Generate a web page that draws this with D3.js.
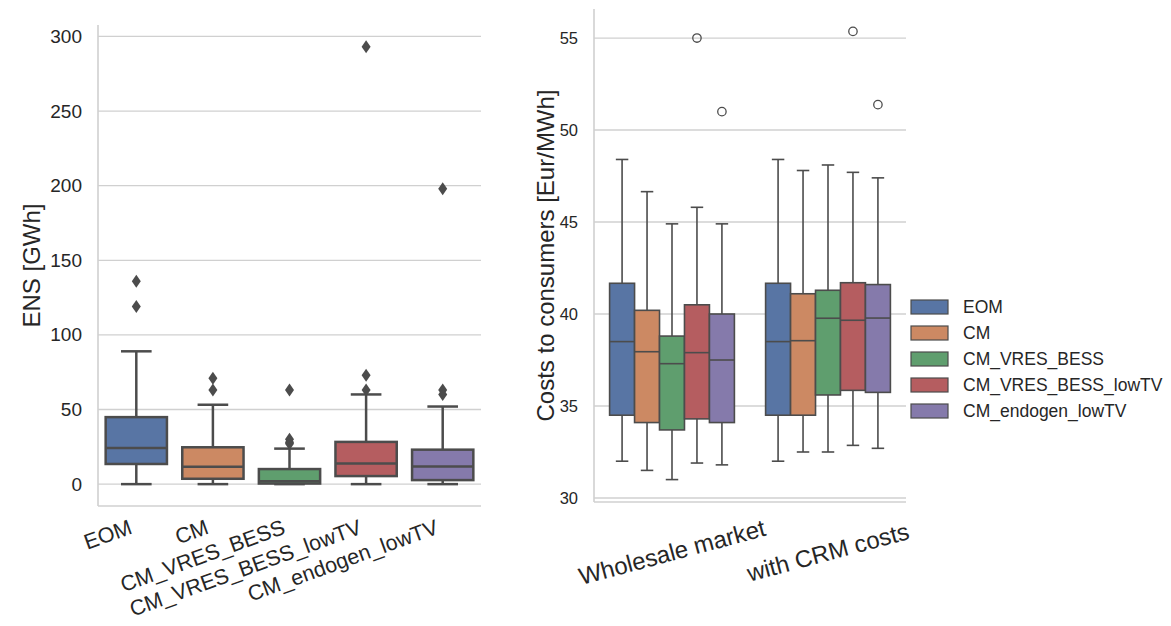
<!DOCTYPE html>
<html>
<head>
<meta charset="utf-8">
<script src="https://cdn.jsdelivr.net/npm/d3@7"></script>
<style>
  body { margin: 0; background: #fff; }
  svg { font-family: "Liberation Sans", Arial, sans-serif; }
  text { fill: #262626; }
</style>
</head>
<body>
<svg id="drawing_region"></svg>
<script>
// scenarios (same order in both panels and in legend)
const categories = ["EOM", "CM", "CM_VRES_BESS", "CM_VRES_BESS_lowTV", "CM_endogen_lowTV"];
const colors = ["#5875a4", "#cc8963", "#5f9e6e", "#b55d60", "#857aab"];

// left panel: energy not served [GWh]
const ensLow  = [0, 0, 0, 0, 0];
const ensQ1   = [13.5, 3.6, 0.4, 5.4, 2.7];
const ensMed  = [24.2, 11.6, 2.0, 13.9, 11.9];
const ensQ3   = [44.9, 24.7, 10.1, 28.3, 23.1];
const ensHigh = [89, 53.2, 23.8, 60.1, 52];
const ensOut  = [[136, 119], [71, 63], [63, 30, 28, 27], [293, 73, 63], [198, 63, 60]];
const ensTicks = [0, 50, 100, 150, 200, 250, 300];

// right panel: costs to consumers [Eur/MWh], [group][scenario]
const groups = ["Wholesale market", "with CRM costs"];
const costLow  = [[32.0, 31.5, 31.0, 31.9, 31.8], [32.0, 32.5, 32.5, 32.86, 32.7]];
const costQ1   = [[34.5, 34.1, 33.7, 34.3, 34.1], [34.5, 34.5, 35.6, 35.85, 35.74]];
const costMed  = [[38.5, 37.95, 37.3, 37.9, 37.5], [38.5, 38.55, 39.77, 39.66, 39.78]];
const costQ3   = [[41.67, 40.2, 38.8, 40.5, 40.0], [41.67, 41.1, 41.29, 41.7, 41.6]];
const costHigh = [[48.4, 46.65, 44.9, 45.8, 44.9], [48.4, 47.8, 48.1, 47.7, 47.4]];
const costOut  = [[[], [], [], [55.0], [51.0]], [[], [], [], [55.36], [51.38]]];
const costTicks = [30, 35, 40, 45, 50, 55];

const svg = d3.select("#drawing_region")
    .attr("width", 1171)
    .attr("height", 626);

const lineCol = "#4c4c4c";
const gridCol = "#d0d0d0";

// pad a domain by 5% like matplotlib
function padded(vals) {
    const ext = d3.extent(vals);
    const m = (ext[1] - ext[0]) * 0.05;
    return [ext[0] - m, ext[1] + m];
}

function drawBox(g, cx, w, st, yscale, col, lw, flier) {
    const capW = w * 0.5;
    g.append("line")
        .attr("x1", cx).attr("x2", cx)
        .attr("y1", yscale(st.low)).attr("y2", yscale(st.q1))
        .attr("stroke", lineCol).attr("stroke-width", lw);
    g.append("line")
        .attr("x1", cx).attr("x2", cx)
        .attr("y1", yscale(st.q3)).attr("y2", yscale(st.high))
        .attr("stroke", lineCol).attr("stroke-width", lw);
    [st.low, st.high].forEach(v => {
        g.append("line")
            .attr("x1", cx - capW / 2).attr("x2", cx + capW / 2)
            .attr("y1", yscale(v)).attr("y2", yscale(v))
            .attr("stroke", lineCol).attr("stroke-width", lw);
    });
    g.append("rect")
        .attr("x", cx - w / 2).attr("width", w)
        .attr("y", yscale(st.q3))
        .attr("height", yscale(st.q1) - yscale(st.q3))
        .attr("fill", col)
        .attr("stroke", lineCol).attr("stroke-width", lw);
    g.append("line")
        .attr("x1", cx - w / 2).attr("x2", cx + w / 2)
        .attr("y1", yscale(st.med)).attr("y2", yscale(st.med))
        .attr("stroke", lineCol).attr("stroke-width", lw);
    st.out.forEach(v => {
        if (flier === "diamond") {
            const y = yscale(v);
            g.append("path")
                .attr("d", `M${cx},${y - 6.5}L${cx + 4.5},${y}L${cx},${y + 6.5}L${cx - 4.5},${y}Z`)
                .attr("fill", lineCol);
        } else {
            g.append("circle")
                .attr("cx", cx).attr("cy", yscale(v)).attr("r", 4.2)
                .attr("fill", "none")
                .attr("stroke", lineCol).attr("stroke-width", 1.3);
        }
    });
}

// ---------- left panel ----------
const L = { left: 98, right: 481, top: 25, bottom: 506 };
const lx = d3.scaleBand().domain(categories).range([L.left, L.right]).padding(0);
const ly = d3.scaleLinear()
    .domain(padded(ensLow.concat(ensHigh, ensOut.flat())))
    .range([L.bottom, L.top]);

const left = svg.append("g");
left.selectAll(".grid").data(ensTicks).enter().append("line")
    .attr("x1", L.left).attr("x2", L.right)
    .attr("y1", d => ly(d)).attr("y2", d => ly(d))
    .attr("stroke", gridCol).attr("stroke-width", 1.3);
left.append("line").attr("x1", L.left).attr("x2", L.left)
    .attr("y1", L.top).attr("y2", L.bottom)
    .attr("stroke", gridCol).attr("stroke-width", 1.6);
left.append("line").attr("x1", L.left).attr("x2", L.right)
    .attr("y1", L.bottom).attr("y2", L.bottom)
    .attr("stroke", gridCol).attr("stroke-width", 1.6);

const lyAxis = left.append("g")
    .attr("transform", `translate(${L.left},0)`)
    .call(d3.axisLeft(ly).tickValues(ensTicks).tickSize(0).tickPadding(16));
lyAxis.select(".domain").remove();
lyAxis.selectAll("text").style("font-size", "19px").attr("fill", "#262626")
    .style("font-family", "Liberation Sans, Arial, sans-serif");

categories.forEach((c, i) => {
    const cx = lx(c) + lx.bandwidth() / 2;
    drawBox(left, cx, lx.bandwidth() * 0.8, {
        low: ensLow[i], q1: ensQ1[i], med: ensMed[i], q3: ensQ3[i], high: ensHigh[i], out: ensOut[i]
    }, ly, colors[i], 2.5, "diamond");
    left.append("text")
        .attr("transform", `translate(${cx - 3},${533}) rotate(-20)`)
        .attr("text-anchor", "end")
        .style("font-size", "21.5px")
        .text(c);
});

left.append("text")
    .attr("transform", `translate(40,${(L.top + L.bottom) / 2}) rotate(-90)`)
    .attr("text-anchor", "middle")
    .style("font-size", "24px")
    .text("ENS [GWh]");

// ---------- right panel ----------
const R = { left: 594, right: 906, top: 9, bottom: 502 };
const rx = d3.scaleBand().domain(groups).range([R.left, R.right]).padding(0);
const hx = d3.scaleBand().domain(categories).range([0, rx.bandwidth() * 0.8]).padding(0);
const ry = d3.scaleLinear()
    .domain(padded(costLow.flat().concat(costHigh.flat(), costOut.flat(2))))
    .range([R.bottom, R.top]);

const right = svg.append("g");
right.selectAll(".grid").data(costTicks).enter().append("line")
    .attr("x1", R.left).attr("x2", R.right)
    .attr("y1", d => ry(d)).attr("y2", d => ry(d))
    .attr("stroke", gridCol).attr("stroke-width", 1.3);
right.append("line").attr("x1", R.left).attr("x2", R.left)
    .attr("y1", R.top).attr("y2", R.bottom)
    .attr("stroke", gridCol).attr("stroke-width", 1.6);
right.append("line").attr("x1", R.left).attr("x2", R.right)
    .attr("y1", R.bottom).attr("y2", R.bottom)
    .attr("stroke", gridCol).attr("stroke-width", 1.6);

const ryAxis = right.append("g")
    .attr("transform", `translate(${R.left},0)`)
    .call(d3.axisLeft(ry).tickValues(costTicks).tickSize(0).tickPadding(16));
ryAxis.select(".domain").remove();
ryAxis.selectAll("text").style("font-size", "16.5px").attr("fill", "#262626")
    .style("font-family", "Liberation Sans, Arial, sans-serif");

groups.forEach((gname, gi) => {
    const gx = rx(gname) + rx.bandwidth() * 0.1;
    categories.forEach((c, i) => {
        const cx = gx + hx(c) + hx.bandwidth() / 2;
        drawBox(right, cx, hx.bandwidth(), {
            low: costLow[gi][i], q1: costQ1[gi][i], med: costMed[gi][i],
            q3: costQ3[gi][i], high: costHigh[gi][i], out: costOut[gi][i]
        }, ry, colors[i], 1.6, "circle");
    });
    const tx = rx(gname) + rx.bandwidth() / 2;
    right.append("text")
        .attr("transform", `translate(${tx},552) rotate(-15)`)
        .attr("text-anchor", "middle")
        .attr("dominant-baseline", "central")
        .style("font-size", "24px")
        .text(gname);
});

right.append("text")
    .attr("transform", `translate(554,${(R.top + R.bottom) / 2}) rotate(-90)`)
    .attr("text-anchor", "middle")
    .style("font-size", "24px")
    .text("Costs to consumers [Eur/MWh]");

// legend
const legend = svg.append("g").attr("transform", "translate(911,307)");
categories.forEach((c, i) => {
    const row = legend.append("g").attr("transform", `translate(0,${i * 26})`);
    row.append("rect")
        .attr("x", 0).attr("y", -7).attr("width", 37).attr("height", 14)
        .attr("fill", colors[i]).attr("stroke", lineCol).attr("stroke-width", 1.2);
    row.append("text")
        .attr("x", 52).attr("y", 0)
        .attr("dominant-baseline", "central")
        .style("font-size", "17.5px")
        .text(c);
});
</script>
</body>
</html>
